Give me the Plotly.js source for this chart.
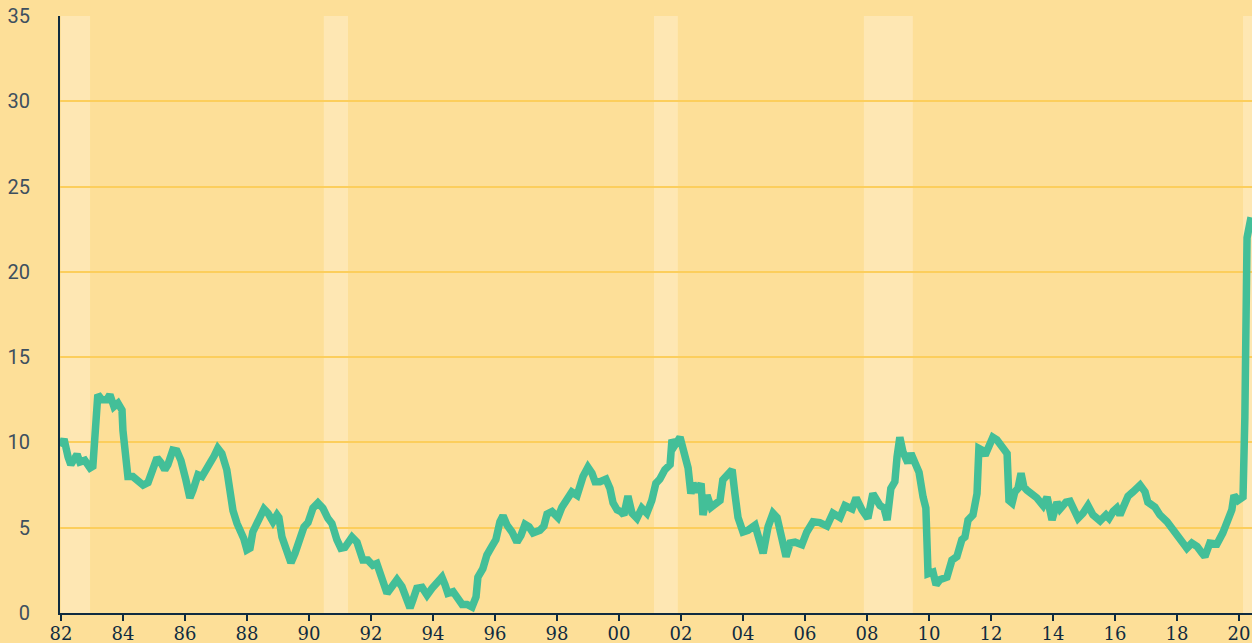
<!DOCTYPE html>
<html>
<head>
<meta charset="utf-8">
<script src="https://cdn.plot.ly/plotly-3.0.1.min.js"></script>
<style>
  html, body { margin: 0; padding: 0; background: #fddf98; }
  #chart { width: 1252px; height: 643px; }
</style>
</head>
<body>
<div id="chart"></div>
<script>
// Decimal years
const years = [
  1982.00,1982.10,1982.23,1982.32,1982.52,1982.61,1982.77,1982.94,
  1983.03,1983.13,1983.19,1983.32,1983.48,1983.58,1983.71,1983.84,1983.97,
  1984.00,1984.10,1984.16,1984.32,1984.48,1984.65,1984.81,1984.94,
  1985.10,1985.23,1985.35,1985.45,1985.61,1985.74,1985.87,
  1986.03,1986.16,1986.26,1986.42,1986.55,1986.71,1986.81,1986.94,
  1987.06,1987.19,1987.35,1987.45,1987.55,1987.68,1987.84,1987.90,
  1988.00,1988.10,1988.19,1988.35,1988.55,1988.68,1988.84,1988.97,
  1989.03,1989.13,1989.29,1989.42,1989.55,1989.71,1989.84,1989.97,
  1990.13,1990.29,1990.45,1990.61,1990.74,1990.90,
  1991.03,1991.16,1991.26,1991.39,1991.55,1991.65,1991.74,1991.90,
  1992.06,1992.19,1992.35,1992.52,1992.68,1992.84,
  1993.00,1993.16,1993.26,1993.35,1993.48,1993.65,1993.81,1993.97,
  1994.13,1994.29,1994.39,1994.48,1994.65,1994.77,1994.94,
  1995.10,1995.26,1995.39,1995.45,1995.61,1995.74,1995.90,
  1996.03,1996.16,1996.26,1996.39,1996.55,1996.71,1996.84,1996.97,
  1997.10,1997.23,1997.45,1997.58,1997.68,1997.84,
  1998.03,1998.16,1998.32,1998.48,1998.65,1998.71,1998.84,
  1999.00,1999.13,1999.23,1999.39,1999.58,1999.71,1999.81,1999.94,
  2000.06,2000.16,2000.29,2000.42,2000.58,2000.74,2000.90,
  2001.06,2001.19,2001.32,2001.48,2001.65,2001.71,2001.81,2001.97,
  2002.10,2002.23,2002.32,2002.39,2002.52,2002.65,2002.71,2002.84,2002.97,
  2003.10,2003.26,2003.35,2003.48,2003.65,2003.74,2003.84,
  2004.00,2004.16,2004.39,2004.65,2004.81,2004.97,
  2005.10,2005.26,2005.39,2005.52,2005.68,2005.90,
  2006.06,2006.26,2006.48,2006.71,2006.90,
  2007.13,2007.29,2007.52,2007.65,2007.84,
  2008.03,2008.19,2008.42,2008.55,2008.65,2008.77,2008.90,2008.97,
  2009.06,2009.16,2009.32,2009.42,2009.55,2009.68,2009.81,2009.90,2009.97,
  2010.13,2010.23,2010.35,2010.58,2010.74,2010.90,
  2011.06,2011.16,2011.26,2011.42,2011.55,2011.61,2011.71,2011.81,2011.94,
  2012.06,2012.19,2012.35,2012.52,2012.58,2012.68,2012.77,2012.87,2012.97,
  2013.06,2013.16,2013.32,2013.48,2013.68,2013.81,2013.97,
  2014.13,2014.23,2014.42,2014.55,2014.81,2014.97,
  2015.13,2015.29,2015.52,2015.71,2015.81,2015.94,
  2016.06,2016.16,2016.29,2016.42,2016.58,2016.81,2016.97,
  2017.06,2017.29,2017.45,2017.68,2017.87,
  2018.00,2018.16,2018.32,2018.48,2018.65,2018.81,2018.90,
  2019.06,2019.29,2019.48,2019.65,2019.77,2019.84,2019.97,
  2020.13,2020.19,2020.26,2020.39
];

// Series values, per cent
const values = [
  9.75,10.2,9.15,8.7,9.3,8.85,8.95,8.5,
  8.6,12.1,12.8,12.5,12.5,12.8,12.1,12.3,11.9,
  10.7,8.4,8.0,8.0,7.8,7.5,7.65,8.4,
  9.1,8.8,8.4,8.7,9.55,9.5,8.95,
  7.8,6.75,7.2,8.1,8.0,8.4,8.8,9.2,
  9.65,9.35,8.4,7.2,6.0,5.25,4.7,4.35,
  3.7,3.8,4.75,5.3,6.1,5.85,5.35,5.75,
  5.6,4.45,3.5,2.95,3.5,4.45,5.05,5.3,
  6.15,6.45,6.15,5.55,5.25,4.3,
  3.8,3.85,4.1,4.45,4.15,3.7,3.1,3.1,
  2.8,2.9,1.95,1.15,1.55,1.95,
  1.55,0.65,0.3,0.75,1.45,1.5,1.05,1.45,
  1.8,2.1,1.65,1.15,1.25,0.9,0.5,
  0.5,0.35,0.95,2.1,2.6,3.4,3.9,
  4.3,5.35,5.7,5.15,4.75,4.15,4.55,5.2,
  5.05,4.7,4.85,5.1,5.8,5.95,
  5.6,6.2,6.6,7.1,6.9,7.4,8.0,
  8.55,8.2,7.7,7.7,7.85,7.3,6.45,6.05,
  5.95,5.75,6.85,5.85,5.55,6.15,5.85,
  6.6,7.6,7.85,8.4,8.7,10.15,9.85,10.3,
  9.55,8.5,7.0,7.6,7.1,7.6,5.75,6.9,6.2,
  6.45,6.6,7.8,8.1,8.4,7.0,5.6,
  4.75,4.85,5.15,3.5,5.05,5.85,
  5.6,4.55,3.3,4.1,4.15,4.0,
  4.75,5.35,5.3,5.1,5.85,
  5.6,6.3,6.1,6.75,6.05,
  5.55,7.0,6.3,6.15,5.45,7.3,7.7,9.15,
  10.3,9.45,8.8,9.35,8.8,8.25,6.8,6.15,2.3,
  2.4,1.65,1.95,2.1,3.1,3.3,
  4.3,4.45,5.45,5.75,7.0,9.65,9.55,9.25,9.85,
  10.3,10.15,9.75,9.35,6.6,6.45,7.1,7.3,8.2,
  7.4,7.2,7.0,6.75,6.3,6.8,5.45,
  6.5,6.1,6.5,6.55,5.55,5.85,
  6.3,5.75,5.4,5.75,5.55,5.95,
  6.15,5.75,6.45,6.85,7.1,7.5,7.1,
  6.5,6.2,5.75,5.35,4.85,
  4.7,4.15,3.8,4.1,3.9,3.5,3.3,
  4.1,4.05,4.7,5.35,6.05,6.9,6.6,
  6.8,11.5,22.0,23.2
];

// Recession periods (shaded bands)
const recessionStart = [1982.0, 1990.48, 2001.13, 2007.9, 2020.13];
const recessionEnd   = [1982.94, 1991.26, 2001.9, 2009.48, 2020.6];

// Tick labels
const xTickVals = [];
const xTickText = [];
for (let y = 1982; y <= 2020; y += 2) {
  xTickVals.push(y);
  xTickText.push(String(y).slice(2));
}
const yTickVals = [0, 5, 10, 15, 20, 25, 30, 35];
const yTickText = ['0', '5', '10', '15', '20', '25', '30', '35'];

const shapes = recessionStart.map((s, i) => ({
  type: 'rect', xref: 'x', yref: 'paper',
  x0: s, x1: recessionEnd[i], y0: 0, y1: 1,
  fillcolor: '#fee7b3', line: { width: 0 }, layer: 'below'
}));

const trace = {
  x: years, y: values, type: 'scatter', mode: 'lines',
  line: { color: '#43bf98', width: 7.5 },
  hoverinfo: 'skip'
};

const layout = {
  width: 1252, height: 643,
  margin: { l: 60, r: 0, t: 16, b: 30 },
  paper_bgcolor: '#fddf98',
  plot_bgcolor: '#fddf98',
  showlegend: false,
  shapes: shapes,
  xaxis: {
    range: [1981.97, 2020.42],
    tickmode: 'array', tickvals: xTickVals, ticktext: xTickText,
    ticks: 'outside', ticklen: 6, tickwidth: 2, tickcolor: '#0f2b40',
    ticklabelstandoff: -3,
    showline: true, linecolor: '#0f2b40', linewidth: 2,
    showgrid: false, zeroline: false,
    tickfont: { family: 'DejaVu Serif', size: 18, color: '#0f2b40' },
    fixedrange: true
  },
  yaxis: {
    range: [0, 35],
    tickmode: 'array', tickvals: yTickVals, ticktext: yTickText,
    ticks: '', ticklabelstandoff: 24,
    showline: true, linecolor: '#0f2b40', linewidth: 2,
    showgrid: true, gridcolor: '#fcce5c', gridwidth: 2,
    zeroline: false,
    tickfont: { family: 'Roboto', size: 20, color: '#3d4f5f' },
    fixedrange: true
  }
};

Plotly.newPlot('chart', [trace], layout, { displayModeBar: false, staticPlot: true });
</script>
</body>
</html>
